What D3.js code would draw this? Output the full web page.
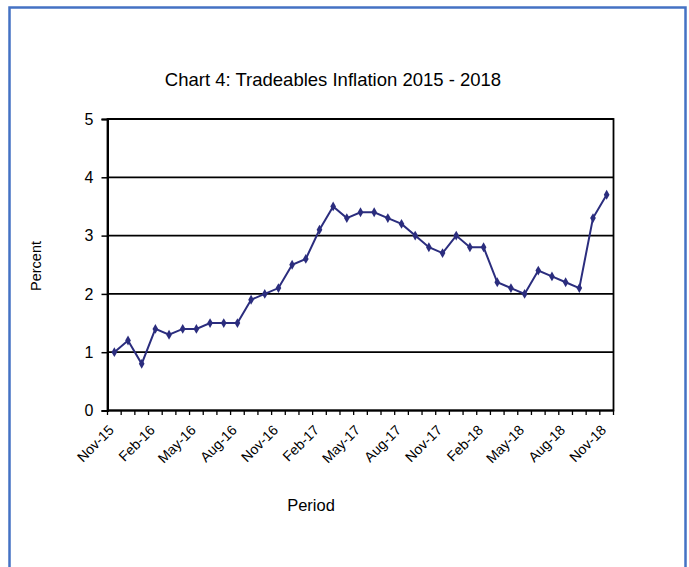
<!DOCTYPE html>
<html>
<head>
<meta charset="utf-8">
<script src="https://cdn.jsdelivr.net/npm/d3@7"></script>
<style>
  html, body { margin: 0; padding: 0; background: #fff; }
  svg { display: block; font-family: "Liberation Sans", Arial, sans-serif; }
</style>
</head>
<body>
<svg id="chart" width="689" height="567"></svg>
<script>
const categories = [
  "Nov-15","Dec-15","Jan-16","Feb-16","Mar-16","Apr-16","May-16","Jun-16","Jul-16","Aug-16","Sep-16","Oct-16",
  "Nov-16","Dec-16","Jan-17","Feb-17","Mar-17","Apr-17","May-17","Jun-17","Jul-17","Aug-17","Sep-17","Oct-17",
  "Nov-17","Dec-17","Jan-18","Feb-18","Mar-18","Apr-18","May-18","Jun-18","Jul-18","Aug-18","Sep-18","Oct-18",
  "Nov-18"
];
const inflation = [
  1.0, 1.2, 0.8, 1.4, 1.3, 1.4, 1.4, 1.5, 1.5, 1.5, 1.9, 2.0,
  2.1, 2.5, 2.6, 3.1, 3.5, 3.3, 3.4, 3.4, 3.3, 3.2, 3.0, 2.8,
  2.7, 3.0, 2.8, 2.8, 2.2, 2.1, 2.0, 2.4, 2.3, 2.2, 2.1, 3.3,
  3.7
];
const yTicks = [0, 1, 2, 3, 4, 5];
const titleText = "Chart 4: Tradeables Inflation 2015 - 2018";
const yAxisTitle = "Percent";
const xAxisTitle = "Period";

const svg = d3.select("#chart");

// outer blue frame
svg.append("rect")
  .attr("x", 9.5).attr("y", 7.5)
  .attr("width", 676).attr("height", 600)
  .attr("fill", "none")
  .attr("stroke", "#4472C4")
  .attr("stroke-width", 2.5);

const plot = { left: 107.5, top: 119, right: 613.5, bottom: 410.5 };

const x = d3.scaleBand()
  .domain(categories)
  .range([plot.left, plot.right])
  .padding(0);

const y = d3.scaleLinear()
  .domain([0, 5])
  .range([plot.bottom, plot.top]);

// gridlines
svg.append("g")
  .selectAll("line")
  .data(yTicks.filter(d => d > 0))
  .join("line")
  .attr("x1", plot.left).attr("x2", plot.right)
  .attr("y1", d => y(d)).attr("y2", d => y(d))
  .attr("stroke", "#000")
  .attr("stroke-width", 1.8);

// plot border
svg.append("rect")
  .attr("x", plot.left).attr("y", plot.top)
  .attr("width", plot.right - plot.left)
  .attr("height", plot.bottom - plot.top)
  .attr("fill", "none")
  .attr("stroke", "#000")
  .attr("stroke-width", 1.8);

// y axis
const yAxis = d3.axisLeft(y).tickValues(yTicks).tickSize(6).tickPadding(8).tickFormat(d3.format("d"));
const gy = svg.append("g").attr("transform", `translate(${plot.left},0)`).call(yAxis);
gy.select(".domain").attr("stroke", "#000").attr("stroke-width", 2);
gy.selectAll(".tick line").attr("stroke", "#000").attr("stroke-width", 1.5);
gy.selectAll(".tick text").attr("font-size", 16).attr("fill", "#000")
  .attr("font-family", "'Liberation Sans', Arial, sans-serif");

// x axis bottom line
svg.append("line")
  .attr("x1", plot.left).attr("x2", plot.right)
  .attr("y1", plot.bottom).attr("y2", plot.bottom)
  .attr("stroke", "#000").attr("stroke-width", 2);

// x tick marks at category boundaries
const boundaries = categories.map(c => x(c)).concat([x(categories[categories.length - 1]) + x.bandwidth()]);
svg.append("g")
  .selectAll("line")
  .data(boundaries)
  .join("line")
  .attr("x1", d => d).attr("x2", d => d)
  .attr("y1", plot.bottom).attr("y2", plot.bottom + 4.5)
  .attr("stroke", "#000").attr("stroke-width", 1.3);

// x labels every 3 months
const cx = c => x(c) + x.bandwidth() / 2;
svg.append("g")
  .selectAll("text")
  .data(categories.filter((c, i) => i % 3 === 0))
  .join("text")
  .attr("transform", d => `translate(${cx(d) - 3},${plot.bottom + 17}) rotate(-45)`)
  .attr("text-anchor", "end")
  .attr("dy", "0.35em")
  .attr("font-size", 14)
  .attr("fill", "#000")
  .text(d => d);

// line series
const line = d3.line()
  .x((d, i) => cx(categories[i]))
  .y(d => y(d));

svg.append("path")
  .datum(inflation)
  .attr("d", line)
  .attr("fill", "none")
  .attr("stroke", "#2B2D7E")
  .attr("stroke-width", 2);

// diamond markers
const diamond = d3.symbol().type(d3.symbolDiamond).size(28);
svg.append("g")
  .selectAll("path")
  .data(inflation)
  .join("path")
  .attr("transform", (d, i) => `translate(${cx(categories[i])},${y(d)})`)
  .attr("d", diamond)
  .attr("fill", "#2B2D7E");

// title
svg.append("text")
  .attr("x", 333).attr("y", 86)
  .attr("text-anchor", "middle")
  .attr("font-size", 18.5)
  .attr("fill", "#000")
  .text(titleText);

// axis titles
svg.append("text")
  .attr("transform", `translate(41,266) rotate(-90)`)
  .attr("text-anchor", "middle")
  .attr("font-size", 14.5)
  .attr("fill", "#000")
  .text(yAxisTitle);

svg.append("text")
  .attr("x", 311).attr("y", 511)
  .attr("text-anchor", "middle")
  .attr("font-size", 16.5)
  .attr("fill", "#000")
  .text(xAxisTitle);
</script>
</body>
</html>
